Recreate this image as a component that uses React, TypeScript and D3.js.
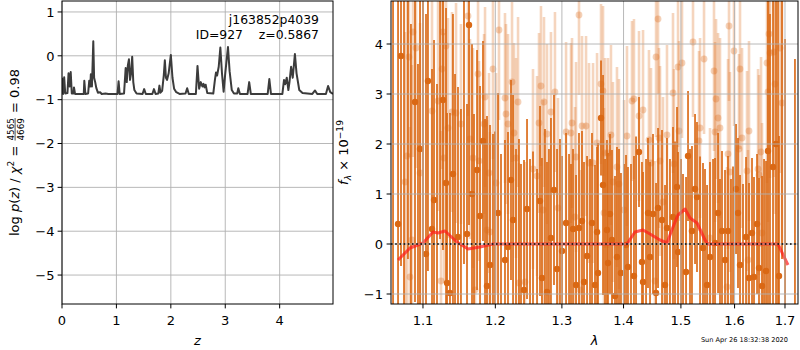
import { useEffect, useRef } from 'react';
import * as d3 from 'd3';

const W = 800;
const H = 350;

// redshift probability curve, log p(z)
const pzZ = [0.0, 0.02, 0.04, 0.06, 0.1, 0.12, 0.14, 0.16, 0.18, 0.21, 0.22, 0.24, 0.4, 0.41, 0.43, 0.48, 0.5, 0.52, 0.53, 0.55, 0.575, 0.59, 0.61, 0.63, 0.66, 0.7, 0.73, 0.8, 0.85, 1.02, 1.04, 1.06, 1.14, 1.17, 1.19, 1.21, 1.23, 1.25, 1.27, 1.29, 1.31, 1.33, 1.37, 1.48, 1.51, 1.54, 1.66, 1.69, 1.72, 1.77, 1.79, 1.81, 1.84, 1.87, 1.89, 1.91, 1.93, 1.96, 2.0, 2.03, 2.06, 2.1, 2.16, 2.27, 2.3, 2.33, 2.46, 2.49, 2.52, 2.55, 2.58, 2.6, 2.62, 2.64, 2.67, 2.78, 2.81, 2.83, 2.85, 2.88, 2.91, 2.94, 2.97, 3.0, 3.05, 3.08, 3.12, 3.16, 3.22, 3.24, 3.27, 3.41, 3.44, 3.47, 3.78, 3.81, 3.84, 4.05, 4.08, 4.1, 4.13, 4.16, 4.18, 4.21, 4.24, 4.28, 4.31, 4.36, 4.42, 4.6, 4.65, 4.69, 4.85, 4.89, 4.93, 4.98];
const pzLog = [-0.5, -0.87, -0.49, -0.86, -0.85, -0.4, -0.7, -0.37, -0.86, -0.86, -0.72, -0.87, -0.87, -0.57, -0.87, -0.86, -0.57, -0.7, -0.42, -0.7, 0.33, -0.5, -0.6, -0.73, -0.84, -0.83, -0.87, -0.86, -0.87, -0.87, -0.58, -0.87, -0.86, -0.28, -0.6, -0.22, -0.08, -0.55, -0.4, -0.02, -0.6, -0.78, -0.86, -0.87, -0.76, -0.87, -0.87, -0.76, -0.87, -0.86, -0.68, -0.84, -0.8, -0.45, -0.1, -0.5, -0.55, -0.4, 0.02, -0.5, -0.75, -0.83, -0.87, -0.86, -0.74, -0.87, -0.87, -0.23, -0.75, -0.6, -0.7, -0.64, -0.72, -0.66, -0.85, -0.86, -0.55, -0.38, -0.45, -0.25, 0.19, -0.4, -0.82, -0.4, 0.2, -0.35, -0.78, -0.86, -0.86, -0.74, -0.87, -0.87, -0.6, -0.87, -0.87, -0.53, -0.87, -0.87, -0.55, -0.65, -0.5, -0.78, -0.6, -0.25, -0.5, 0.04, -0.4, -0.78, -0.85, -0.87, -0.79, -0.87, -0.87, -0.69, -0.83, -0.87];

// spectrum, [wavelength (um), flux, error]
const specDark: [number, number, number][] = [
  [1.0611, -1.5, 6.8], [1.0675, 0.4, 4.6], [1.0713, 3.76, 4.2], [1.0752, -1.4, 6.5], [1.0803, 5.2, 5.5],
  [1.0842, -1.6, 6.0], [1.0895, 2.84, 4.0], [1.0934, -1.4, 5.0], [1.0961, 1.9, 4.0], [1.1, -1.5, 6.5],
  [1.104, -0.2, 4.8], [1.1066, 3.26, 3.8], [1.112, 0.3, 3.2], [1.1147, 0.88, 3.2], [1.1187, -1.3, 4.5],
  [1.1228, 5.1, 5.0], [1.1268, 2.88, 3.0], [1.1309, 1.22, 3.5], [1.1323, -0.78, 3.4], [1.1363, -0.98, 3.6],
  [1.1404, 1.4, 3.2], [1.1432, -1.4, 4.8], [1.1473, 0.14, 3.0], [1.1514, -1.3, 4.0], [1.1556, 5.0, 5.4],
  [1.1598, 0.2, 2.6], [1.1626, 4.38, 4.0], [1.1668, 1.0, 3.0], [1.1696, -1.4, 4.0], [1.1739, 1.48, 2.4],
  [1.1781, 0.56, 2.6], [1.1823, 2.06, 2.0], [1.1852, -1.3, 3.8], [1.188, -0.84, 3.4], [1.1923, -0.42, 2.8],
  [1.1966, -1.3, 3.5], [1.1995, -1.35, 3.6], [1.2039, 0.62, 2.4], [1.2082, -1.4, 3.2], [1.214, -0.32, 2.4],
  [1.2184, -0.06, 2.3], [1.2228, 1.28, 2.0], [1.2258, 0.48, 2.5], [1.2302, -1.3, 3.2], [1.2346, -1.4, 3.5],
  [1.2376, -1.3, 2.9], [1.2421, -0.92, 2.6], [1.2466, 0.7, 1.8], [1.2511, -1.3, 3.0], [1.2556, -1.35, 3.2],
  [1.2617, -1.3, 2.8], [1.2662, 0.86, 1.9], [1.2692, -0.68, 2.4], [1.2738, -1.3, 3.6], [1.2769, -0.96, 2.6],
  [1.2799, -1.3, 3.2], [1.283, 0.12, 2.4], [1.2877, 1.08, 1.9], [1.2924, -0.5, 2.4], [1.297, -1.3, 3.4],
  [1.3002, -0.14, 1.9], [1.3065, 0.42, 1.8], [1.3112, -1.3, 3.1], [1.3143, -1.4, 3.0], [1.3175, 0.3, 1.6],
  [1.3223, -0.82, 2.2], [1.327, 0.32, 1.9], [1.3318, 0.46, 1.8], [1.335, -0.76, 2.4], [1.3399, -0.24, 2.0],
  [1.3447, -1.3, 3.0], [1.3479, 0.42, 1.8], [1.3528, -0.82, 2.4], [1.3561, 0.24, 1.7], [1.3577, -0.58, 2.6],
  [1.3626, 2.52, 1.15], [1.3659, 1.18, 2.2], [1.3692, -1.3, 3.0], [1.3724, 0.28, 1.8], [1.3741, -0.38, 2.2],
  [1.3774, 0.6, 1.6], [1.3807, 0.08, 1.8], [1.3857, -1.04, 2.4], [1.389, -0.26, 2.2], [1.3924, -1.3, 3.2],
  [1.3957, -0.58, 2.0], [1.4008, -1.4, 3.0], [1.4042, -0.02, 1.8], [1.4075, -0.46, 2.0], [1.4126, -1.3, 2.9],
  [1.4177, -0.64, 2.4], [1.4212, -1.35, 3.5], [1.4263, 1.84, 1.1], [1.4314, -0.36, 2.0], [1.4332, -0.76, 2.2],
  [1.4384, -1.3, 3.0], [1.4418, 0.62, 1.5], [1.4453, -0.26, 1.9], [1.4505, 0.6, 1.6], [1.4558, -0.98, 2.2],
  [1.4593, 0.72, 1.6], [1.4663, 0.48, 1.8], [1.4716, -0.82, 2.0], [1.4751, 0.32, 1.8], [1.4804, -1.3, 3.0],
  [1.4858, 0.54, 1.8], [1.4894, -1.35, 3.4], [1.493, 1.14, 1.6], [1.4948, -0.16, 2.0], [1.5002, -1.3, 3.0],
  [1.5038, -1.3, 2.7], [1.5093, -0.56, 1.9], [1.5129, 1.76, 1.3], [1.5165, -1.3, 3.2], [1.5201, 0.26, 1.7],
  [1.5257, 1.1, 1.5], [1.5293, 0.94, 1.5], [1.5349, -1.35, 3.1], [1.5404, -0.08, 1.7], [1.5441, -1.3, 2.8],
  [1.5479, -0.82, 2.0], [1.5534, -0.26, 1.9], [1.5591, -1.3, 3.0], [1.5628, 0.02, 1.7], [1.5685, 0.62, 1.6],
  [1.5722, -1.3, 2.6], [1.576, 0.26, 1.6], [1.5817, -0.32, 1.8], [1.5874, 0.26, 1.5], [1.5931, -1.3, 2.6],
  [1.597, -1.35, 2.9], [1.6028, 1.1, 1.3], [1.6066, 0.62, 1.5], [1.6105, -0.42, 1.8], [1.6163, -1.3, 2.5],
  [1.6222, 0.14, 1.6], [1.628, -0.68, 1.9], [1.6339, 0.22, 1.5], [1.6378, -0.66, 2.0], [1.6438, 0.4, 1.4],
  [1.6477, -0.48, 1.8], [1.6537, -0.84, 2.2], [1.6577, -1.3, 3.0], [1.6617, -0.54, 2.2], [1.6656, 1.86, 3.2],
  [1.6696, -1.4, 6.0], [1.6757, 1.54, 3.5], [1.6818, 2.0, 3.2], [1.6858, -1.5, 6.5], [1.6878, -0.64, 2.8],
  [1.6939, 5.2, 5.5], [1.7001, -1.4, 5.5], [1.7205, -1.5, 5.2],
];

const specLight: [number, number, number][] = [
  [1.0765, 1.24, 3.0], [1.079, 1.76, 3.2], [1.0816, 3.74, 2.0], [1.0829, -0.66, 3.0], [1.0855, 0.08, 3.5],
  [1.0868, 4.24, 2.5], [1.0908, 3.92, 2.4], [1.0961, 1.42, 3.0], [1.112, 2.66, 2.4], [1.1201, 2.86, 2.2],
  [1.1241, -0.74, 3.0], [1.1255, 3.5, 2.0], [1.1268, 4.24, 2.2], [1.1282, 1.72, 2.5], [1.1309, 3.96, 2.0],
  [1.1336, 2.32, 2.2], [1.1391, 2.64, 2.0], [1.1446, 2.62, 2.2], [1.1514, 2.4, 2.0], [1.1612, 4.56, 2.0],
  [1.164, 2.1, 2.0], [1.1682, 1.72, 2.2], [1.171, -0.92, 2.4], [1.1753, 3.4, 1.8], [1.1767, 1.66, 2.0],
  [1.1838, 2.4, 1.8], [1.1852, 2.94, 1.8], [1.188, 0.28, 2.2], [1.1909, 1.42, 2.0], [1.1923, 0.24, 2.0],
  [1.1966, 3.5, 1.8], [1.201, 1.22, 2.2], [1.2053, 4.28, 1.8], [1.214, 2.92, 1.7], [1.2155, 2.6, 1.8],
  [1.2184, 2.4, 1.8], [1.2243, 3.24, 1.6], [1.2272, 2.22, 1.8], [1.2302, 1.72, 2.0], [1.2332, 2.84, 1.7],
  [1.2346, -0.78, 2.4], [1.2436, -0.76, 2.4], [1.2556, 1.5, 2.0], [1.2617, 1.36, 2.0], [1.2647, 2.42, 1.8],
  [1.2677, 3.16, 1.6], [1.2708, 0.68, 2.2], [1.2723, 2.84, 1.7], [1.2769, 2.2, 1.8], [1.283, 2.64, 1.6],
  [1.2892, 3.04, 1.6], [1.2939, 0.72, 2.2], [1.3065, 2.24, 1.8], [1.3143, 2.22, 1.8], [1.3159, 2.42, 1.7],
  [1.3207, 0.54, 2.2], [1.3223, 1.74, 1.9], [1.327, 4.58, 1.6], [1.3286, -0.92, 2.4], [1.3318, 2.36, 1.8],
  [1.3383, 2.36, 1.8], [1.3431, 1.62, 2.0], [1.3496, 1.62, 2.0], [1.3561, 2.02, 1.8], [1.3626, 3.2, 1.6],
  [1.3659, 3.06, 1.7], [1.3675, 0.62, 2.1], [1.3692, 1.82, 1.9], [1.3741, 1.82, 1.9], [1.379, 2.18, 1.8],
  [1.3823, 1.24, 2.0], [1.389, 1.54, 2.0], [1.3924, 1.2, 2.1], [1.4008, 0.68, 2.2], [1.4058, 2.16, 1.8],
  [1.4143, 2.86, 1.6], [1.4177, 2.9, 1.6], [1.4263, 2.56, 1.7], [1.4332, 2.68, 1.6], [1.4435, 2.08, 1.8],
  [1.447, 1.62, 1.9], [1.454, -0.74, 2.4], [1.4558, 3.74, 1.6], [1.4593, 4.5, 1.5], [1.461, 2.12, 1.8],
  [1.4628, 1.66, 1.9], [1.468, 0.84, 2.1], [1.4751, 2.18, 1.8], [1.4858, 3.02, 1.6], [1.4876, 1.6, 1.9],
  [1.4948, 3.54, 1.6], [1.4966, 2.26, 1.8], [1.502, 3.62, 1.5], [1.522, 4.04, 1.5], [1.533, 2.06, 1.8],
  [1.5349, 2.32, 1.8], [1.5423, 3.7, 1.5], [1.5534, 0.12, 2.2], [1.5609, 3.46, 1.6], [1.5628, 2.24, 1.8],
  [1.5647, 2.9, 1.6], [1.5685, 2.52, 1.7], [1.5722, 2.32, 1.8], [1.5855, -0.86, 2.4], [1.5874, 1.8, 1.9],
  [1.5893, 4.36, 1.5], [1.5912, 1.44, 2.0], [1.5989, 3.86, 1.5], [1.6085, 1.9, 1.9], [1.6105, 3.5, 1.6],
  [1.6144, 2.12, 1.8], [1.6241, 1.46, 2.0], [1.6261, -0.32, 2.2], [1.628, 2.26, 1.8], [1.6458, 1.5, 2.0],
  [1.6477, 1.38, 2.0], [1.6517, 1.84, 1.9], [1.6537, 0.22, 2.2], [1.6636, 3.62, 2.4], [1.6656, 3.04, 2.6],
  [1.6676, 4.2, 2.4], [1.6696, 3.82, 2.5], [1.6777, 3.84, 2.5], [1.6797, 3.2, 2.6], [1.6899, 3.92, 2.5],
  [1.6939, 2.82, 2.8],
];

// best-fit model
const modelWave = [1.0675, 1.083, 1.1, 1.1133, 1.12, 1.1295, 1.1459, 1.1612, 1.178, 1.1966, 1.4058, 1.4194, 1.4331, 1.4453, 1.4627, 1.4751, 1.4858, 1.4948, 1.5075, 1.5166, 1.5294, 1.5442, 1.5497, 1.6857, 1.7061];
const modelFlux = [-0.32, -0.08, 0.02, 0.24, 0.22, 0.26, 0.04, -0.1, -0.06, 0.0, 0.0, 0.24, 0.28, 0.2, 0.08, 0.02, 0.34, 0.58, 0.7, 0.52, 0.42, 0.08, 0.0, 0.0, -0.42];

const zTicks = [0, 1, 2, 3, 4];
const pzTicks = [-5, -4, -3, -2, -1, 0, 1];
const waveTicks = [1.1, 1.2, 1.3, 1.4, 1.5, 1.6, 1.7];
const fluxTicks = [-1, 0, 1, 2, 3, 4];

const FONT = 'DejaVu Sans, sans-serif';
const FS = 13;
const ORANGE = '#da6814';
const GRID = '#b0b0b0';
const SP = '\u00a0';

const fmt = (v: number) => String(v).replace('-', '\u2212');

type Part = { t?: string; it?: boolean; sup?: boolean; sub?: boolean; frac?: [string, string] };

// lays out mathtext-like pieces along a baseline, returns total width
function richText(g: d3.Selection<SVGGElement, unknown, null, undefined>, parts: Part[], size: number) {
  let x = 0;
  const txt = (tx: number, ty: number, fs: number, s: string, italic = false) =>
    g.append('text')
      .attr('x', tx).attr('y', ty)
      .attr('font-family', FONT)
      .attr('font-size', fs)
      .attr('font-style', italic ? 'italic' : 'normal')
      .attr('fill', '#000')
      .text(s.replace(/ /g, SP));
  parts.forEach((p) => {
    if (p.frac) {
      const fs = size * 0.68;
      const num = txt(x + 1, -size * 0.42, fs, p.frac[0]);
      const den = txt(x + 1, size * 0.42, fs, p.frac[1]);
      const w = Math.max(num.node()!.getComputedTextLength(), den.node()!.getComputedTextLength());
      g.append('line')
        .attr('x1', x + 1).attr('x2', x + 1 + w)
        .attr('y1', -size * 0.3).attr('y2', -size * 0.3)
        .attr('stroke', '#000').attr('stroke-width', 0.7);
      x += w + 2;
      return;
    }
    const fs = p.sup || p.sub ? size * 0.7 : size;
    const y = p.sup ? -size * 0.4 : p.sub ? size * 0.25 : 0;
    const t = txt(x, y, fs, p.t!, !!p.it);
    x += t.node()!.getComputedTextLength();
  });
  return x;
}

export default function App() {
  const svgRef = useRef<SVGSVGElement>(null);

  useEffect(() => {
    if (!svgRef.current) return;
    const svg = d3.select(svgRef.current);
    svg.selectAll('*').remove();

    svg.append('rect').attr('width', W).attr('height', H).attr('fill', '#fff');

    const defs = svg.append('defs');

    // ---------- left panel: p(z) ----------
    const L = { x0: 62, x1: 333, y0: 1, y1: 304 };
    const zx = d3.scaleLinear().domain([0, 4.98]).range([L.x0, L.x1]);
    const zy = d3.scaleLinear().domain([-5.66, 1.25]).range([L.y1, L.y0]);

    defs.append('clipPath').attr('id', 'clipL')
      .append('rect').attr('x', L.x0).attr('y', L.y0).attr('width', L.x1 - L.x0).attr('height', L.y1 - L.y0);

    const gl = svg.append('g');

    zTicks.forEach((t) => {
      gl.append('line').attr('x1', zx(t)).attr('x2', zx(t)).attr('y1', L.y0).attr('y2', L.y1)
        .attr('stroke', GRID).attr('stroke-width', 0.9);
    });
    pzTicks.forEach((t) => {
      gl.append('line').attr('x1', L.x0).attr('x2', L.x1).attr('y1', zy(t)).attr('y2', zy(t))
        .attr('stroke', GRID).attr('stroke-width', 0.9);
    });

    const pzLine = d3.line<number>()
      .x((_, i) => zx(pzZ[i]))
      .y((d) => zy(d));

    gl.append('path')
      .datum(pzLog)
      .attr('d', pzLine)
      .attr('fill', 'none')
      .attr('stroke', '#3c3c3c')
      .attr('stroke-width', 2)
      .attr('stroke-linejoin', 'round')
      .attr('clip-path', 'url(#clipL)');

    gl.append('rect').attr('x', L.x0).attr('y', L.y0).attr('width', L.x1 - L.x0).attr('height', L.y1 - L.y0)
      .attr('fill', 'none').attr('stroke', '#000').attr('stroke-width', 1);

    zTicks.forEach((t) => {
      gl.append('line').attr('x1', zx(t)).attr('x2', zx(t)).attr('y1', L.y1).attr('y2', L.y1 + 4.4).attr('stroke', '#000');
      gl.append('text').attr('x', zx(t)).attr('y', 324.5).attr('text-anchor', 'middle')
        .attr('font-family', FONT).attr('font-size', FS).text(fmt(t));
    });
    pzTicks.forEach((t) => {
      gl.append('line').attr('x1', L.x0 - 4.4).attr('x2', L.x0).attr('y1', zy(t)).attr('y2', zy(t)).attr('stroke', '#000');
      gl.append('text').attr('x', 54.5).attr('y', zy(t) + 4.7).attr('text-anchor', 'end')
        .attr('font-family', FONT).attr('font-size', FS).text(fmt(t));
    });

    gl.append('text').attr('x', 319).attr('y', 24).attr('text-anchor', 'end')
      .attr('font-family', FONT).attr('font-size', 12.4).text('j163852p4039');
    gl.append('text').attr('x', 319).attr('y', 39).attr('text-anchor', 'end')
      .attr('font-family', FONT).attr('font-size', 12.4).text(`ID=927${SP.repeat(4)}z=0.5867`);

    gl.append('text').attr('x', (L.x0 + L.x1) / 2).attr('y', 345).attr('text-anchor', 'middle')
      .attr('font-family', FONT).attr('font-size', FS).attr('font-style', 'italic').text('z');

    const ylabL = gl.append('g');
    const wL = richText(ylabL, [
      { t: 'log ' }, { t: 'p', it: true }, { t: '(' }, { t: 'z', it: true }, { t: ') / ' },
      { t: '\u03c7', it: true }, { t: '2', sup: true }, { t: ' = ' }, { frac: ['4565', '4669'] }, { t: ' = 0.98' },
    ], FS);
    ylabL.attr('transform', `translate(19,${(L.y0 + L.y1) / 2}) rotate(-90) translate(${-wL / 2},0)`);

    // ---------- right panel: spectrum ----------
    const R = { x0: 391, x1: 798, y0: 1, y1: 304 };
    const wx = d3.scaleLog().domain([1.0585, 1.7268]).range([R.x0, R.x1]);
    const fy = d3.scaleLinear().domain([-1.2, 4.86]).range([R.y1, R.y0]);

    defs.append('clipPath').attr('id', 'clipR')
      .append('rect').attr('x', R.x0).attr('y', R.y0).attr('width', R.x1 - R.x0).attr('height', R.y1 - R.y0);

    const gr = svg.append('g');
    const data = gr.append('g').attr('clip-path', 'url(#clipR)');

    // faint spectrum
    data.append('g').selectAll('line').data(specLight).join('line')
      .attr('x1', (d) => wx(d[0])).attr('x2', (d) => wx(d[0]))
      .attr('y1', (d) => fy(d[1] - d[2])).attr('y2', (d) => fy(d[1] + d[2]))
      .attr('stroke', ORANGE).attr('stroke-width', 2.6).attr('stroke-opacity', 0.28);
    data.append('g').selectAll('circle').data(specLight).join('circle')
      .attr('cx', (d) => wx(d[0])).attr('cy', (d) => fy(d[1])).attr('r', 3.4)
      .attr('fill', ORANGE).attr('fill-opacity', 0.3);

    // binned spectrum
    data.append('g').selectAll('line').data(specDark).join('line')
      .attr('x1', (d) => wx(d[0])).attr('x2', (d) => wx(d[0]))
      .attr('y1', (d) => fy(d[1] - d[2])).attr('y2', (d) => fy(d[1] + d[2]))
      .attr('stroke', ORANGE).attr('stroke-width', 1.8).attr('stroke-opacity', 0.92);
    data.append('g').selectAll('circle').data(specDark).join('circle')
      .attr('cx', (d) => wx(d[0])).attr('cy', (d) => fy(d[1])).attr('r', 3.2)
      .attr('fill', ORANGE);

    waveTicks.forEach((t) => {
      gr.append('line').attr('x1', wx(t)).attr('x2', wx(t)).attr('y1', R.y0).attr('y2', R.y1)
        .attr('stroke', GRID).attr('stroke-width', 0.9);
    });
    fluxTicks.forEach((t) => {
      gr.append('line').attr('x1', R.x0).attr('x2', R.x1).attr('y1', fy(t)).attr('y2', fy(t))
        .attr('stroke', GRID).attr('stroke-width', 0.9);
    });

    gr.append('line').attr('x1', R.x0).attr('x2', R.x1).attr('y1', fy(0)).attr('y2', fy(0))
      .attr('stroke', '#000').attr('stroke-width', 1.6).attr('stroke-dasharray', '1.6,2.6');

    const modelLine = d3.line<number>()
      .x((_, i) => wx(modelWave[i]))
      .y((d) => fy(d));
    data.append('path').datum(modelFlux).attr('d', modelLine)
      .attr('fill', 'none').attr('stroke', '#ff1a1a').attr('stroke-opacity', 0.7)
      .attr('stroke-width', 3).attr('stroke-linejoin', 'round');

    gr.append('rect').attr('x', R.x0).attr('y', R.y0).attr('width', R.x1 - R.x0).attr('height', R.y1 - R.y0)
      .attr('fill', 'none').attr('stroke', '#000').attr('stroke-width', 1);

    waveTicks.forEach((t) => {
      gr.append('line').attr('x1', wx(t)).attr('x2', wx(t)).attr('y1', R.y1).attr('y2', R.y1 + 4.4).attr('stroke', '#000');
      gr.append('text').attr('x', wx(t)).attr('y', 324.5).attr('text-anchor', 'middle')
        .attr('font-family', FONT).attr('font-size', FS).text(t.toFixed(1));
    });
    fluxTicks.forEach((t) => {
      gr.append('line').attr('x1', R.x0 - 4.4).attr('x2', R.x0).attr('y1', fy(t)).attr('y2', fy(t)).attr('stroke', '#000');
      gr.append('text').attr('x', 383).attr('y', fy(t) + 4.7).attr('text-anchor', 'end')
        .attr('font-family', FONT).attr('font-size', FS).text(fmt(t));
    });

    gr.append('text').attr('x', (R.x0 + R.x1) / 2).attr('y', 345).attr('text-anchor', 'middle')
      .attr('font-family', FONT).attr('font-size', FS).attr('font-style', 'italic').text('\u03bb');

    const ylabR = gr.append('g');
    const wR = richText(ylabR, [
      { t: 'f', it: true }, { t: '\u03bb', it: true, sub: true }, { t: ' \u00d7 10' }, { t: '\u221219', sup: true },
    ], FS);
    ylabR.attr('transform', `translate(348,${(R.y0 + R.y1) / 2}) rotate(-90) translate(${-wR / 2},0)`);

    gr.append('text').attr('x', 788).attr('y', 342).attr('text-anchor', 'end')
      .attr('font-family', FONT).attr('font-size', 6.6).text('Sun Apr 26 18:32:38 2020');
  }, []);

  return (
    <svg
      ref={svgRef}
      width={W}
      height={H}
      style={{ position: 'absolute', left: 0, top: 0 }}
    />
  );
}
